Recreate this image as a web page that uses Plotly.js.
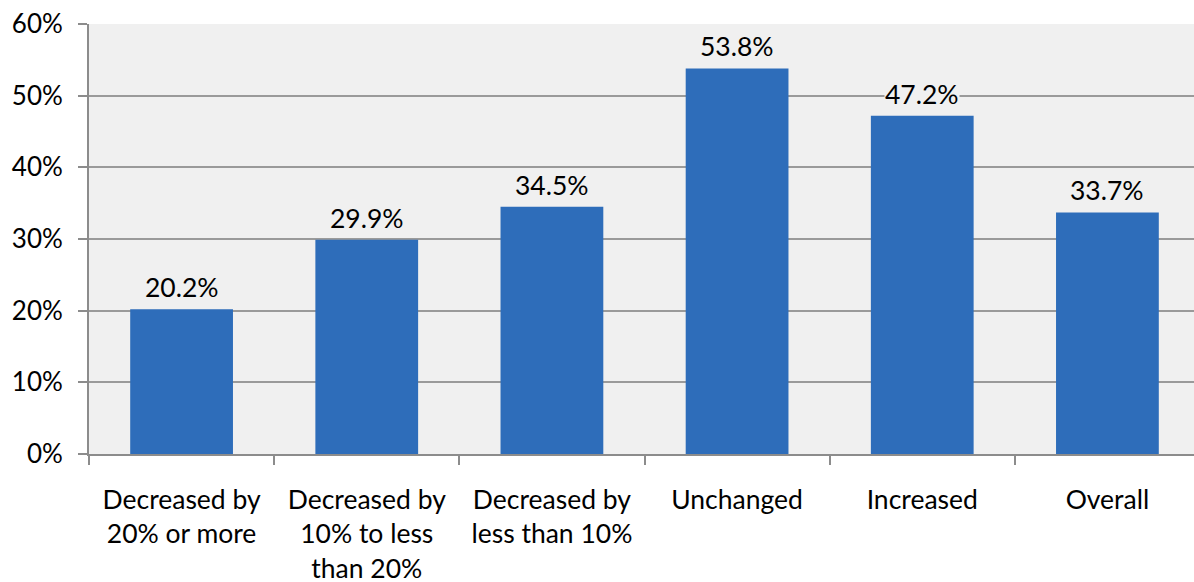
<!DOCTYPE html>
<html><head><meta charset="utf-8">
<script src="https://cdn.plot.ly/plotly-3.0.1.min.js"></script>
<style>html,body{margin:0;padding:0;background:#fff;overflow:hidden}#chart{width:1200px;height:582px}</style>
</head><body><div id="chart"></div>
<script>
const categories = ["Decreased by<br>20% or more", "Decreased by<br>10% to less<br>than 20%", "Decreased by<br>less than 10%", "Unchanged", "Increased", "Overall"];
const values = [20.2, 29.9, 34.5, 53.8, 47.2, 33.7];
const labels = values.map(v => v.toFixed(1) + "%");
const yTickVals = [0, 10, 20, 30, 40, 50, 60];
const yTickText = ["0%", "10%", "20%", "30%", "40%", "50%", "60%"];

const font = "Lato, 'Open Sans', sans-serif";
const annotations = categories.map((c, i) => ({
  x: c, y: values[i], xref: "x", yref: "y",
  text: labels[i], showarrow: false,
  yanchor: "middle", yshift: 22,
  bgcolor: "#f0f0f0", borderpad: 0,
  font: {family: font, size: 26.5, color: "#000"}
}));
Plotly.newPlot("chart", [{
  type: "bar",
  x: categories,
  y: values,
  marker: {color: "#2e6dba", line: {width: 0}},
  width: 0.555,
  hoverinfo: "skip"
}], {
  width: 1200, height: 582,
  margin: {l: 89, r: 0, t: 24, b: 128, pad: 0},
  paper_bgcolor: "#fff",
  plot_bgcolor: "#f0f0f0",
  font: {family: font, size: 26, color: "#000"},
  showlegend: false,
  annotations: annotations,
  xaxis: {
    type: "category",
    tickson: "boundaries",
    ticks: "outside", ticklen: 9, tickwidth: 2, tickcolor: "#8c8c8c",
    showline: true, linecolor: "#8c8c8c", linewidth: 2,
    showgrid: false,
    ticklabelstandoff: 21,
    tickfont: {family: font, size: 26.5, color: "#000"},
    automargin: false
  },
  yaxis: {
    range: [0, 60],
    tickvals: yTickVals, ticktext: yTickText,
    ticks: "outside", ticklen: 9, tickwidth: 2, tickcolor: "#8c8c8c",
    showline: true, linecolor: "#8c8c8c", linewidth: 2,
    showgrid: true, gridcolor: "#9a9a9a", gridwidth: 2,
    zeroline: false,
    ticklabelstandoff: 10,
    tickfont: {family: font, size: 26, color: "#000"},
    automargin: false
  }
}, {displayModeBar: false, staticPlot: true});
</script></body></html>
